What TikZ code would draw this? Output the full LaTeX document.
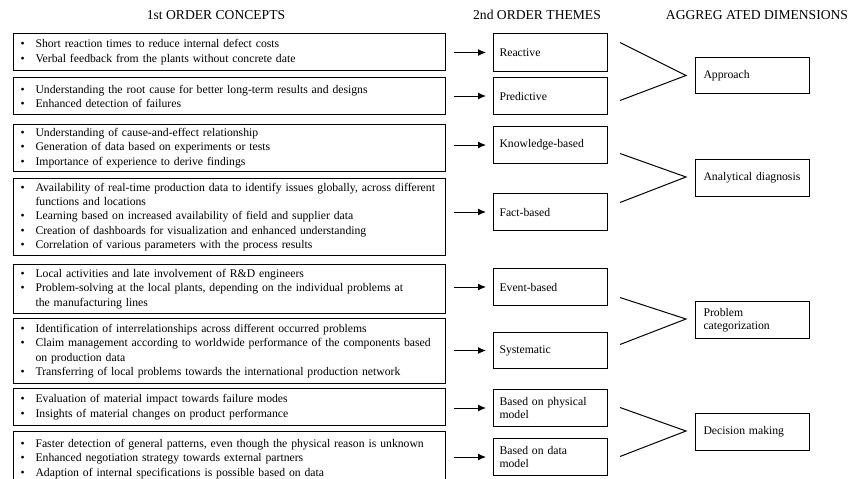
\documentclass[tikz,border=0pt]{standalone}
\usepackage{fontspec}
\setmainfont{Liberation Serif}
\usetikzlibrary{arrows.meta,calc,positioning}

\newcommand{\itemdot}{\makebox[15pt][l]{\textbullet}}
\newcommand{\itemcont}{\hspace*{15pt}}

\begin{document}
\begin{tikzpicture}[x=1pt, y=-1pt,
    head/.style={font=\fontsize{13.6}{16}\selectfont, anchor=base},
    concept/.style={draw, line width=1.1pt, anchor=north west, text width=417.7pt,
        inner xsep=7.3pt, align=left, font=\fontsize{11.7}{14.2}\selectfont},
    theme/.style={draw, line width=1pt, anchor=north west, minimum height=37pt,
        text width=102pt, inner xsep=6pt, align=left, font=\fontsize{11.7}{13.5}\selectfont},
    dimension/.style={theme, text width=98pt, inner xsep=8pt},
    arr/.style={line width=1pt, -{Latex[length=8pt,width=7pt]}, shorten <=8pt, shorten >=7pt},
    merge/.style={line width=1pt}]
    \useasboundingbox (0,0) rectangle (851,479);
    \clip (0,0) rectangle (851,479);

    % column heads
    \node[head] (h1) at (216,19.5) {1st ORDER CONCEPTS};
    \node[head] (h2) at (537,19.5) {2nd ORDER THEMES};
    \node[head] (h3) at (757,19.5) {AGGREG ATED DIMENSIONS};

    % 1st order concepts
    \node[concept, minimum height=37pt] (c1) at (12.7,33) {\itemdot Short reaction times to reduce internal defect costs\\
        \itemdot Verbal feedback from the plants without concrete date};
    \node[concept, minimum height=37pt] (c2) at (12.7,77) {\itemdot Understanding the root cause for better long-term results and designs\\
        \itemdot Enhanced detection of failures};
    \node[concept, minimum height=47pt] (c3) at (12.7,124) {\itemdot Understanding of cause-and-effect relationship\\
        \itemdot Generation of data based on experiments or tests\\
        \itemdot Importance of experience to derive findings};
    \node[concept, minimum height=77pt] (c4) at (12.7,178) {\itemdot Availability of real-time production data to identify issues globally, across different\\
        \itemcont functions and locations\\
        \itemdot Learning based on increased availability of field and supplier data\\
        \itemdot Creation of dashboards for visualization and enhanced understanding\\
        \itemdot Correlation of various parameters with the process results};
    \node[concept, minimum height=49pt] (c5) at (12.7,264) {\itemdot Local activities and late involvement of R\&D engineers\\
        \itemdot Problem-solving at the local plants, depending on the individual problems at\\
        \itemcont the manufacturing lines};
    \node[concept, minimum height=65pt] (c6) at (12.7,318) {\itemdot Identification of interrelationships across different occurred problems\\
        \itemdot Claim management according to worldwide performance of the components based\\
        \itemcont on production data\\
        \itemdot Transferring of local problems towards the international production network};
    \node[concept, minimum height=37pt] (c7) at (12.7,388) {\itemdot Evaluation of material impact towards failure modes\\
        \itemdot Insights of material changes on product performance};
    \node[concept, minimum height=55pt] (c8) at (12.7,431) {\itemdot Faster detection of general patterns, even though the physical reason is unknown\\
        \itemdot Enhanced negotiation strategy towards external partners\\
        \itemdot Adaption of internal specifications is possible based on data};

    % 2nd order themes
    \node[theme, minimum height=38pt] (m1) at (493,33) {Reactive};
    \node[theme] (m2) at (493,77) {Predictive};
    \node[theme] (m3) at (493,126) {Knowledge-based};
    \node[theme] (m4) at (493,193) {Fact-based};
    \node[theme] (m5) at (493,268) {Event-based};
    \node[theme, minimum height=36pt] (m6) at (493,332) {Systematic};
    \node[theme] (m7) at (493,389) {Based on physical\\model};
    \node[theme] (m8) at (493,438) {Based on data\\model};

    % aggregated dimensions
    \node[dimension, minimum height=36pt] (a1) at (695,57) {Approach};
    \node[dimension] (a2) at (695,159) {Analytical diagnosis};
    \node[dimension] (a3) at (695,301) {Problem\\categorization};
    \node[dimension] (a4) at (695,413) {Decision making};

    % concepts to themes
    \draw[arr] (c1.east |- m1.west) -- (m1.west);
    \draw[arr] (c2.east |- m2.west) -- (m2.west);
    \draw[arr] (c3.east |- m3.west) -- (m3.west);
    \draw[arr] (c4.east |- m4.west) -- (m4.west);
    \draw[arr] (c5.east |- m5.west) -- (m5.west);
    \draw[arr] (c6.east |- m6.west) -- (m6.west);
    \draw[arr] (c7.east |- m7.west) -- (m7.west);
    \draw[arr] (c8.east |- m8.west) -- (m8.west);

    % themes to dimensions
    \draw[merge] ($(m1.east)+(12,-10)$) -- ($(a1.west)+(-9,0)$) -- ($(m2.east)+(12,4.5)$);
    \draw[merge] ($(m3.east)+(12,8.5)$) -- ($(a2.west)+(-9,-1)$) -- ($(m4.east)+(12,-9.5)$);
    \draw[merge] ($(m5.east)+(12,10.5)$) -- ($(a3.west)+(-9,-1)$) -- ($(m6.east)+(12,-6)$);
    \draw[merge] ($(m7.east)+(12,-0.5)$) -- ($(a4.west)+(-9,-1)$) -- ($(m8.east)+(12,-0.5)$);
\end{tikzpicture}
\end{document}
